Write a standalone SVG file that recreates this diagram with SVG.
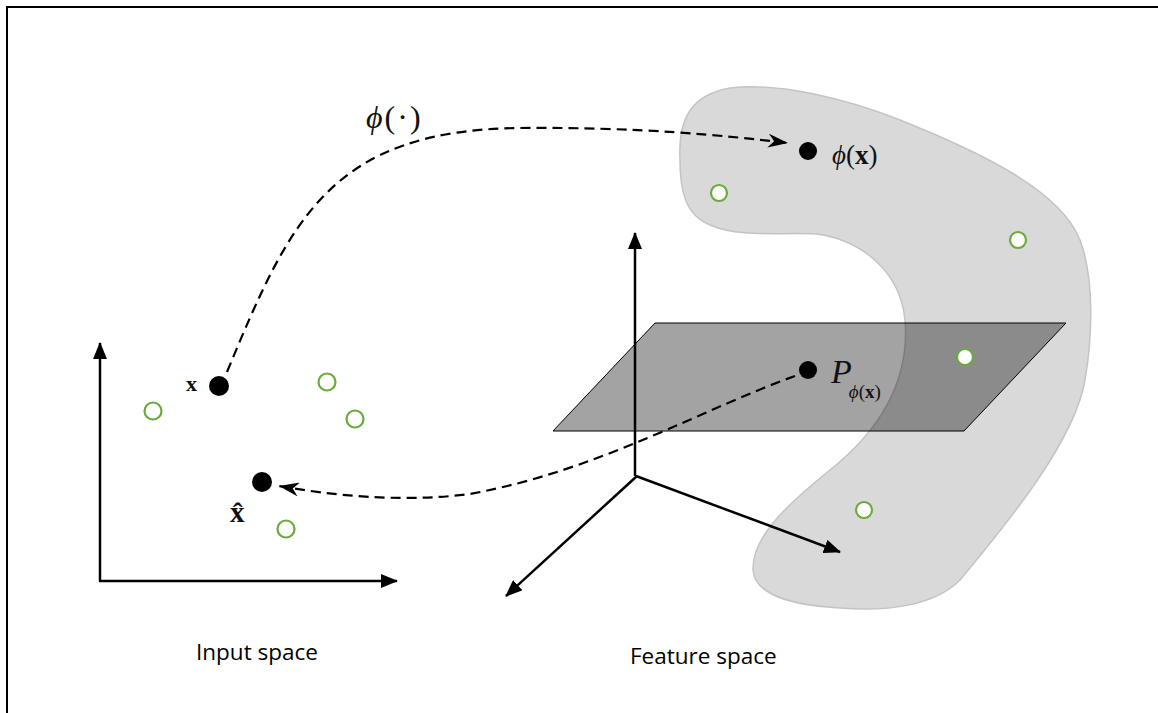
<svg xmlns="http://www.w3.org/2000/svg" width="1158" height="713" viewBox="0 0 1158 713">
<style>
.ax{stroke:#000;stroke-width:2.5;fill:none}
.dash{stroke:#000;stroke-width:2.2;fill:none;stroke-dasharray:10 6}
.pt{fill:#000}
.gc{fill:#fff;stroke:#6aab3c;stroke-width:2.2}
.m{font-family:"Liberation Serif","DejaVu Serif",serif;fill:#111}
.lbl{font-family:"Open Sans","Liberation Sans",sans-serif;font-size:22.5px;fill:#000}
</style>
<defs>
<marker id="tri" markerWidth="18" markerHeight="14" refX="16" refY="7" orient="auto" markerUnits="userSpaceOnUse">
<path d="M0,0 L17,7 L0,14 Z" fill="#000"/>
</marker>
<marker id="barb" markerWidth="22" markerHeight="14" refX="20" refY="7" orient="auto" markerUnits="userSpaceOnUse">
<path d="M0,0 L20,7 L0,14 L6,7 Z" fill="#000"/>
</marker>
</defs>
<rect width="1158" height="713" fill="#fff"/>
<path d="M7,713 L7,7 L1158,7" fill="none" stroke="#000" stroke-width="2"/>

<g id="manifold">
<path d="M680,160 C678,120 690,95 730,88 C780,82 850,100 900,120 C980,152 1060,190 1080,240 C1095,280 1092,340 1085,380 C1075,440 1010,520 960,580 C935,605 890,612 840,608 C790,605 755,595 753,570 C752,540 780,510 830,470 C880,430 910,380 905,320 C900,270 860,240 817,234 C780,232 740,238 710,225 C685,215 680,190 680,160 Z" fill="#d9d9d9" stroke="#c4c4c4" stroke-width="1.5"/>
</g>

<g id="input-axes">
<line class="ax" x1="100" y1="581" x2="100" y2="343" marker-end="url(#tri)"/>
<line class="ax" x1="99" y1="581" x2="397" y2="581" marker-end="url(#tri)"/>
</g>

<g id="plane">
<polygon points="655,323 1066,323 964,431 553,431" fill="#000" fill-opacity="0.36" stroke="#000" stroke-width="1"/>
</g>

<g id="feature-axes">
<line class="ax" x1="635" y1="476" x2="635" y2="233" marker-end="url(#tri)"/>
<line class="ax" x1="637" y1="476" x2="506" y2="596" marker-end="url(#tri)"/>
<line class="ax" x1="636" y1="476" x2="840" y2="552" marker-end="url(#tri)"/>
</g>

<g id="connectors">
<path class="dash" d="M227,372 C290,220 330,130 520,128 C640,127 720,135 788,143" marker-end="url(#barb)"/>
<path class="dash" d="M795,376 C700,410 600,470 470,494 C400,503 330,495 279,486" marker-end="url(#barb)"/>
</g>

<g id="input-points">
<circle class="gc" cx="153" cy="411" r="8.5"/>
<circle class="gc" cx="327" cy="382" r="8.5"/>
<circle class="gc" cx="355" cy="419" r="8.5"/>
<circle class="gc" cx="286" cy="529" r="8.5"/>
</g>

<g id="node-x">
<circle class="pt" cx="219" cy="386" r="10"/>
<text class="m" x="186" y="391" font-size="22" font-weight="bold">x</text>
</g>

<g id="node-xhat">
<circle class="pt" cx="262" cy="482" r="10"/>
<text class="m" x="230" y="522" font-size="29" font-weight="bold">x̂</text>
</g>

<g id="feature-points">
<circle class="gc" cx="719" cy="193" r="8"/>
<circle class="gc" cx="1018" cy="240" r="8"/>
<circle class="gc" cx="965" cy="357" r="8"/>
<circle class="gc" cx="864" cy="510" r="8"/>
</g>

<g id="node-phix">
<circle class="pt" cx="808" cy="151" r="9"/>
<text class="m" x="832" y="164" font-size="27"><tspan font-style="italic">ϕ</tspan>(<tspan font-weight="bold">x</tspan>)</text>
</g>

<g id="node-p">
<circle class="pt" cx="808" cy="370" r="9"/>
<text class="m" x="831" y="383" font-size="34"><tspan font-style="italic">P</tspan><tspan font-size="19" dx="-3" dy="15" font-style="italic">ϕ</tspan><tspan font-size="19">(</tspan><tspan font-size="19" font-weight="bold">x</tspan><tspan font-size="19">)</tspan></text>
</g>

<g id="map-label">
<text class="m" x="366" y="128" font-size="32" letter-spacing="2"><tspan font-style="italic">ϕ</tspan>(·)</text>
</g>

<g id="labels">
<text class="lbl" x="196" y="660">Input space</text>
<text class="lbl" x="630" y="664">Feature space</text>
</g>
</svg>
